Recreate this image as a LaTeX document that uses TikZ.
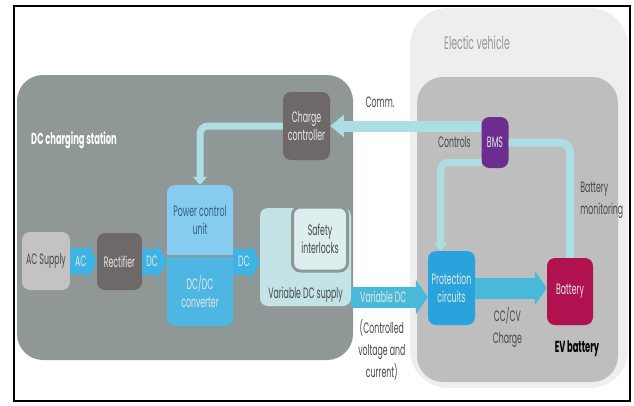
\documentclass[tikz,border=0pt]{standalone}
\usepackage{fontspec}
\setmainfont{Poppins}[FakeStretch=0.52]
\usetikzlibrary{arrows.meta,positioning,calc}
\definecolor{stationgray}{RGB}{143,151,151}
\definecolor{evlight}{RGB}{238,238,238}
\definecolor{evgray}{RGB}{190,190,190}
\definecolor{supplygray}{RGB}{196,194,194}
\definecolor{boxdark}{RGB}{110,104,104}
\definecolor{pcublue}{RGB}{134,204,240}
\definecolor{convblue}{RGB}{77,182,226}
\definecolor{vdcfill}{RGB}{195,227,231}
\definecolor{safetyfill}{RGB}{221,238,239}
\definecolor{protectblue}{RGB}{41,163,222}
\definecolor{bmspurple}{RGB}{107,45,142}
\definecolor{batterycrimson}{RGB}{176,18,79}
\definecolor{arrowblue}{RGB}{61,180,229}
\definecolor{chargecyan}{RGB}{72,185,217}
\definecolor{signalcyan}{RGB}{172,222,228}
\definecolor{textlight}{RGB}{228,232,232}
\definecolor{textdark}{RGB}{70,72,72}
\definecolor{pcutext}{RGB}{50,95,125}
\definecolor{evtext}{RGB}{150,150,150}
\tikzset{
  area/.style={rectangle, inner sep=0pt},
  box/.style={rectangle, rounded corners=8pt, align=center, inner sep=1pt,
    font=\fontsize{15}{18}\selectfont},
  darkbox/.style={box, fill=boxdark, text=textlight},
  lbl/.style={font=\fontsize{15}{22}\selectfont, text=textdark, align=center},
  flowarrow/.style={line width=26pt, arrowblue, -{Triangle[length=9pt,width=36pt]}},
  chargearrow/.style={line width=21pt, chargecyan, -{Triangle[length=12pt,width=34pt]}},
  commarrow/.style={line width=11pt, signalcyan, -{Triangle[length=14pt,width=22pt]}},
  ctlarrow/.style={line width=7pt, signalcyan, rounded corners=8pt, -{Triangle[length=8pt,width=14pt]}},
  monline/.style={line width=8pt, signalcyan, rounded corners=10pt},
  arrowlbl/.style={font=\fontsize{15}{18}\selectfont, text=textlight},
}
\begin{document}
\begin{tikzpicture}[x=1pt, y=-1pt]
\useasboundingbox (0,0) rectangle (634,405);
\draw[line width=1.6pt] (14,6) rectangle (630,401);

\node[area, fill=evlight, rounded corners=38pt, minimum width=218pt, minimum height=380pt] (ev) at (519,198) {};
\node[area, fill=evgray, rounded corners=26pt, minimum width=201pt, minimum height=305pt] (evin) at (517.5,229.5) {};
\node[area, fill=stationgray, rounded corners=26pt, minimum width=336pt, minimum height=285pt] (station) at (185,217.5) {};
\node[font=\fontsize{18}{20}\selectfont, text=evtext] (evlbl) at (477,43) {Electic vehicle};
\node[font=\bfseries\fontsize{16}{18}\selectfont, text=white] (stationlbl) at (74,140) {DC charging station};

\node[box, fill=supplygray, text=textdark, minimum width=48pt, minimum height=58pt] (acsupply) at (46,261) {AC Supply};
\node[darkbox, minimum width=45pt, minimum height=57pt] (rectifier) at (119.5,261.5) {Rectifier};
\node[darkbox, minimum width=47pt, minimum height=68pt] (ctrl) at (306.5,126) {Charge\\controller};
\node[box, fill=pcublue, text=pcutext, minimum width=66pt, minimum height=71pt] (pcu) at (200,220.5) {Power control\\unit};
\node[box, fill=convblue, text=textlight, minimum width=66pt, minimum height=70pt] (conv) at (200,291) {DC/DC\\converter};
\fill[pcublue] ([yshift=10pt]pcu.south west) rectangle (pcu.south east);
\fill[convblue] (conv.north west) rectangle ([yshift=-10pt]conv.north east);
\draw[stationgray, line width=2pt] (pcu.south west) -- (pcu.south east);
\node[box, fill=vdcfill, minimum width=91pt, minimum height=98pt] (vdc) at (305.5,257) {};
\node[box, text=textdark, above=3pt of vdc.south] (vdctext) {Variable DC supply};
\node[box, fill=safetyfill, text=textdark, draw=stationgray, line width=3pt,
  minimum width=55pt, minimum height=64pt] (safety) at (320,239) {Safety\\interlocks};

\node[box, fill=protectblue, text=textlight, minimum width=47pt, minimum height=74pt] (protect) at (451.5,288) {Protection\\circuits};
\node[box, fill=batterycrimson, text=textlight, minimum width=46pt, minimum height=67pt] (battery) at (570,291.5) {Battery};
\node[box, fill=bmspurple, text=textlight, minimum width=27pt, minimum height=51pt] (bms) at (495,142.5) {BMS};
\node[font=\bfseries\fontsize{16}{18}\selectfont, below=12pt of battery.south, xshift=7pt] (evbattery) {EV battery};

\coordinate (vdcin) at ([yshift=-9pt]protect.west);
\coordinate (ctlin) at ([xshift=-11pt]protect.north);

\draw[flowarrow] (acsupply.east) -- (rectifier.west) node[arrowlbl, pos=0.4] {AC};
\draw[flowarrow] (rectifier.east) -- (rectifier.east -| pcu.west) node[arrowlbl, pos=0.4] {DC};
\draw[flowarrow] (rectifier.east -| pcu.east) -- (rectifier.east -| vdc.west) node[arrowlbl, pos=0.4] {DC};
\draw[chargearrow] (vdc.east |- vdcin) -- (vdcin) node[arrowlbl, pos=0.42] {Variable DC}
  node[lbl, pos=0.4, below=9pt] {(Controlled\\voltage and\\current)};
\draw[chargearrow] (protect.east) -- (protect.east -| battery.west)
  node[lbl, pos=0.45, below=6pt] {CC/CV\\Charge};
\draw[ctlarrow] (ctrl.west) -| (pcu.north);
\draw[commarrow] (bms.west |- ctrl.east) -- (ctrl.east) node[lbl, pos=0.67, above=10pt] {Comm.};
\draw[ctlarrow] ([yshift=-20pt]bms.west) -| (ctlin);
\draw[monline] (bms.east) -| (battery.north) node[lbl, pos=0.75, right=3pt, align=left] {Battery\\monitoring};
\node[lbl, left=7pt of bms] (controlslbl) {Controls};

\end{tikzpicture}
\end{document}
